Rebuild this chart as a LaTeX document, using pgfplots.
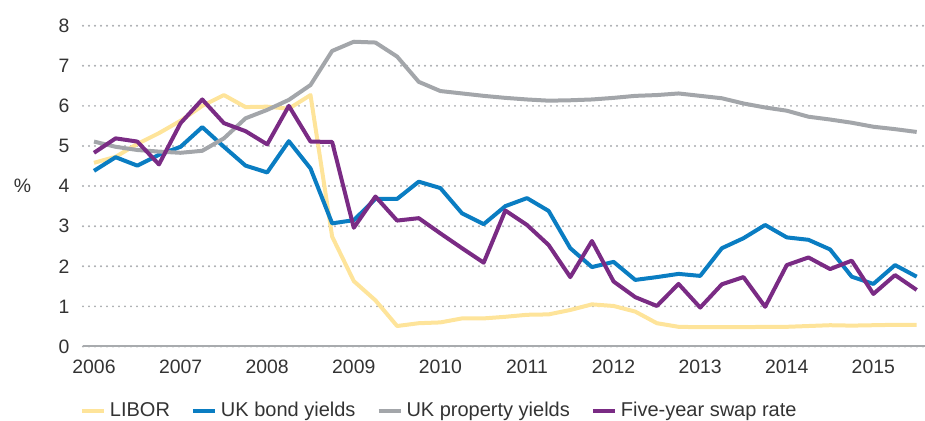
\documentclass[border=0pt]{standalone}
\usepackage{fontspec}
\setmainfont{Liberation Sans}
\usepackage{pgfplots}
\pgfplotsset{compat=1.18}
\definecolor{cLibor}{HTML}{FEE49A}
\definecolor{cBond}{HTML}{0A7DC2}
\definecolor{cProp}{HTML}{A3A6AA}
\definecolor{cSwap}{HTML}{7A2B84}
\definecolor{gridgray}{HTML}{A8ABAE}
\definecolor{axisgray}{HTML}{A8ABAE}
\definecolor{txt}{HTML}{333333}
\newcommand{\lblfont}{\fontsize{9.7}{11}\selectfont}
\newcommand{\legfont}{\fontsize{10}{12}\selectfont}
\begin{document}
\begin{tikzpicture}
\begin{axis}[
  scale only axis, width=421pt, height=160.4pt,
  xmin=2005.873, xmax=2015.596, ymin=0, ymax=8,
  axis lines*=left,
  y axis line style={draw=none},
  x axis line style={draw=axisgray, line width=1pt},
  xtick={2006,...,2015}, ytick={0,...,8},
  major tick length=0pt,
  ymajorgrids,
  grid style={draw=gridgray, line width=1.1pt, line cap=round, dash pattern=on 0pt off 3pt},
  xticklabel style={/pgf/number format/1000 sep={}, yshift=-3.4pt},
  yticklabel style={xshift=-3.2pt},
  /pgf/number format/assume math mode=true,
  tick label style={font=\lblfont, text=txt},
  ylabel={\%},
  ylabel style={rotate=-90, at={(axis description cs:-0.0719,0.5)}, anchor=center, font=\lblfont, text=txt},
  legend columns=4,
  legend cell align=left,
  legend style={draw=none, fill=none, at={(axis description cs:-0.0036,-0.2010)}, anchor=west,
    inner sep=0pt, outer sep=0pt, font=\legfont, text=txt,
    /tikz/every even column/.append style={column sep=8.5pt}},
  legend image code/.code={\draw[#1, line width=2pt] (0pt,0pt) -- (11pt,0pt);},
  every axis plot/.append style={line width=2pt, line join=round, mark=none},
]
\addplot[cLibor] table[x=x, y=y] {
x y
2006.00 4.58
2006.25 4.73
2006.50 5.05
2006.75 5.32
2007.00 5.63
2007.25 6.00
2007.50 6.27
2007.75 5.97
2008.00 5.98
2008.25 5.93
2008.50 6.27
2008.75 2.74
2009.00 1.63
2009.25 1.15
2009.50 0.51
2009.75 0.58
2010.00 0.60
2010.25 0.70
2010.50 0.70
2010.75 0.74
2011.00 0.79
2011.25 0.80
2011.50 0.91
2011.75 1.05
2012.00 1.01
2012.25 0.87
2012.50 0.58
2012.75 0.49
2013.00 0.48
2013.25 0.48
2013.50 0.48
2013.75 0.49
2014.00 0.49
2014.25 0.51
2014.50 0.53
2014.75 0.52
2015.00 0.53
2015.25 0.54
2015.50 0.54
};
\addlegendentry{LIBOR}
\addplot[cBond] table[x=x, y=y] {
x y
2006.00 4.38
2006.25 4.72
2006.50 4.51
2006.75 4.78
2007.00 4.98
2007.25 5.47
2007.50 4.98
2007.75 4.51
2008.00 4.34
2008.25 5.12
2008.50 4.44
2008.75 3.07
2009.00 3.15
2009.25 3.68
2009.50 3.68
2009.75 4.11
2010.00 3.95
2010.25 3.32
2010.50 3.05
2010.75 3.50
2011.00 3.70
2011.25 3.38
2011.50 2.45
2011.75 1.98
2012.00 2.11
2012.25 1.66
2012.50 1.73
2012.75 1.81
2013.00 1.76
2013.25 2.45
2013.50 2.70
2013.75 3.03
2014.00 2.72
2014.25 2.66
2014.50 2.42
2014.75 1.74
2015.00 1.56
2015.25 2.03
2015.50 1.74
};
\addlegendentry{UK bond yields}
\addplot[cProp] table[x=x, y=y] {
x y
2006.00 5.11
2006.25 4.98
2006.50 4.90
2006.75 4.86
2007.00 4.83
2007.25 4.88
2007.50 5.19
2007.75 5.69
2008.00 5.90
2008.25 6.15
2008.50 6.52
2008.75 7.37
2009.00 7.60
2009.25 7.58
2009.50 7.23
2009.75 6.60
2010.00 6.37
2010.25 6.31
2010.50 6.25
2010.75 6.20
2011.00 6.16
2011.25 6.13
2011.50 6.14
2011.75 6.16
2012.00 6.20
2012.25 6.25
2012.50 6.27
2012.75 6.31
2013.00 6.25
2013.25 6.19
2013.50 6.06
2013.75 5.96
2014.00 5.88
2014.25 5.73
2014.50 5.66
2014.75 5.58
2015.00 5.48
2015.25 5.42
2015.50 5.35
};
\addlegendentry{UK property yields}
\addplot[cSwap] table[x=x, y=y] {
x y
2006.00 4.83
2006.25 5.19
2006.50 5.11
2006.75 4.54
2007.00 5.57
2007.25 6.16
2007.50 5.57
2007.75 5.37
2008.00 5.04
2008.25 6.00
2008.50 5.11
2008.75 5.10
2009.00 2.96
2009.25 3.74
2009.50 3.14
2009.75 3.20
2010.00 2.82
2010.25 2.45
2010.50 2.09
2010.75 3.39
2011.00 3.03
2011.25 2.53
2011.50 1.73
2011.75 2.63
2012.00 1.62
2012.25 1.23
2012.50 1.01
2012.75 1.56
2013.00 0.97
2013.25 1.55
2013.50 1.73
2013.75 0.99
2014.00 2.03
2014.25 2.22
2014.50 1.93
2014.75 2.14
2015.00 1.31
2015.25 1.78
2015.50 1.41
};
\addlegendentry{Five-year swap rate}
\end{axis}
\pgfresetboundingbox
\path[use as bounding box] ([xshift=-41.5pt, yshift=-37.25pt]current axis.south west) rectangle ([yshift=12.85pt]current axis.north east);
\end{tikzpicture}
\end{document}
